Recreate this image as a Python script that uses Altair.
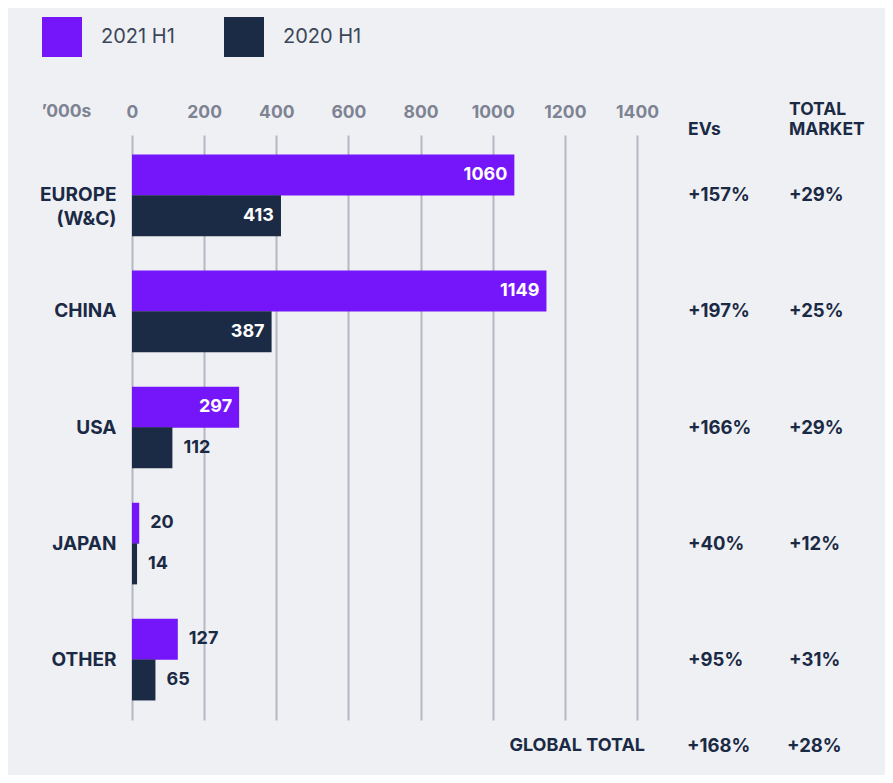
import altair as alt
import pandas as pd

regions = ["EUROPE|(W&C)", "CHINA", "USA", "JAPAN", "OTHER"]
series = ["2021 H1", "2020 H1"]
values_2021 = [1060, 1149, 297, 20, 127]
values_2020 = [413, 387, 112, 14, 65]
ev_growth = ["+157%", "+197%", "+166%", "+40%", "+95%"]
market_growth = ["+29%", "+25%", "+29%", "+12%", "+31%"]
global_row = ["GLOBAL TOTAL", "+168%", "+28%"]
x_ticks = [0, 200, 400, 600, 800, 1000, 1200, 1400]

PURPLE = "#7516fa"
NAVY = "#1b2b45"
TEXT = "#1b2a44"
GRID = "#b4b8c2"
FONT = "Inter"
W, H = 505, 585

rows = []
for r, a, b in zip(regions, values_2021, values_2020):
    rows.append({"region": r, "series": series[0], "value": a})
    rows.append({"region": r, "series": series[1], "value": b})
df = pd.DataFrame(rows)
table = pd.DataFrame({"region": regions, "evs": ev_growth, "total": market_growth})

y_enc = alt.Y(
    "region:N",
    sort=regions,
    scale=alt.Scale(paddingInner=0.3, paddingOuter=0.17),
    axis=alt.Axis(
        title=None, ticks=False, domain=False, grid=False,
        labelExpr="split(datum.label, '|')",
        labelFont=FONT, labelFontSize=19, labelFontWeight="bold",
        labelColor=TEXT, labelPadding=16, labelLineHeight=24,
    ),
)
yoff = alt.YOffset("series:N", sort=series, scale=alt.Scale(domain=series, paddingInner=0, paddingOuter=0))

x_enc = alt.X(
    "value:Q",
    scale=alt.Scale(domain=[0, 1400], nice=False, zero=True),
    axis=alt.Axis(
        orient="top", values=x_ticks, format="d", ticks=False, domain=False,
        labelFlush=False, labelOverlap=False,
        grid=True, gridColor=GRID, gridWidth=2,
        labelFont=FONT, labelFontSize=17.5, labelFontWeight="bold",
        labelColor="#7e8393", labelPadding=14,
        title="\u2019000s", titleFont=FONT, titleFontSize=17.5, titleFontWeight="bold",
        titleColor="#7e8393", titleAngle=0, titleX=-66, titleY=-24,
        titleAlign="center", titleBaseline="middle",
    ),
)

base = alt.Chart(df)

bars = base.mark_bar(size=41).encode(
    x=x_enc,
    y=y_enc,
    yOffset=yoff,
    color=alt.Color(
        "series:N",
        scale=alt.Scale(domain=series, range=[PURPLE, NAVY]),
        legend=alt.Legend(
            title=None, orient="none", legendX=-90, legendY=-118,
            direction="horizontal", symbolType="square", symbolSize=1600,
            symbolStrokeWidth=0, symbolOpacity=1,
            labelFont=FONT, labelFontSize=20, labelColor="#3b4658",
            labelOffset=19, columnPadding=49,
        ),
    ),
)

inside = base.transform_filter("datum.value >= 200").mark_text(
    align="right", baseline="middle", dx=-7, font=FONT, fontSize=18,
    fontWeight="bold", color="white",
).encode(x="value:Q", y=alt.Y("region:N", sort=regions), yOffset=yoff, text="value:Q")

outside = base.transform_filter("datum.value < 200").mark_text(
    align="left", baseline="middle", dx=11, font=FONT, fontSize=18,
    fontWeight="bold", color=TEXT,
).encode(x="value:Q", y=alt.Y("region:N", sort=regions), yOffset=yoff, text="value:Q")

tbase = alt.Chart(table)
evs_col = tbase.mark_text(
    align="left", baseline="middle", font=FONT, fontSize=18.5, fontWeight="bold", color=TEXT
).encode(x=alt.value(556), y=alt.Y("region:N", sort=regions), text="evs:N")
tot_col = tbase.mark_text(
    align="left", baseline="middle", font=FONT, fontSize=18.5, fontWeight="bold", color=TEXT
).encode(x=alt.value(657), y=alt.Y("region:N", sort=regions), text="total:N")


def label(txt, x, y, align="left", size=17.5):
    return alt.Chart(pd.DataFrame({"t": [txt]})).mark_text(
        align=align, baseline="middle", font=FONT, fontSize=size,
        fontWeight="bold", color=TEXT,
    ).encode(x=alt.value(x), y=alt.value(y), text="t:N")


headers = [
    label("EVs", 556, -5),
    label("TOTAL", 657, -25),
    label("MARKET", 657, -5),
    label(global_row[0], 513, 611, align="right", size=18),
    label(global_row[1], 555, 611, size=18.5),
    label(global_row[2], 655, 611, size=18.5),
]

chart = alt.layer(bars, inside, outside, evs_col, tot_col, *headers).properties(
    width=W, height=H,
    autosize=alt.AutoSizeParams(type="none"),
    padding={"left": 124, "top": 127, "right": 248, "bottom": 55},
).configure(background="#eff0f4").configure_view(stroke=None)

chart.save("out.html", embed_options={"renderer": "svg", "actions": False})
